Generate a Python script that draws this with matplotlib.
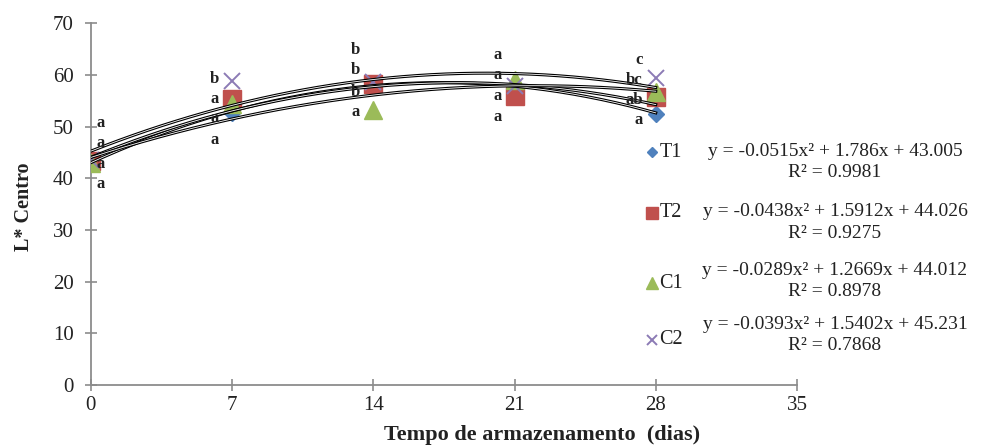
import numpy as np
import matplotlib
matplotlib.use("Agg")
import matplotlib.pyplot as plt

SERIF = ["Liberation Serif", "DejaVu Serif"]
plt.rcParams["font.family"] = SERIF

# ---- data ----
days = [0, 7, 14, 21, 28]
t1 = [43.0, 52.6, 57.8, 57.4, 52.5]
t2 = [43.4, 55.3, 58.3, 55.9, 55.8]
c1 = [42.9, 54.3, 53.2, 59.0, 56.6]
c2 = [43.6, 58.8, 58.6, 57.8, 59.3]
series = ["T1", "T2", "C1", "C2"]
coefs = {"T1": [-0.0515, 1.786, 43.005], "T2": [-0.0438, 1.5912, 44.026],
         "C1": [-0.0289, 1.2669, 44.012], "C2": [-0.0393, 1.5402, 45.231]}
r2 = {"T1": "0.9981", "T2": "0.9275", "C1": "0.8978", "C2": "0.7868"}
eq_txt = {"T1": "y = -0.0515x² + 1.786x + 43.005", "T2": "y = -0.0438x² + 1.5912x + 44.026",
          "C1": "y = -0.0289x² + 1.2669x + 44.012", "C2": "y = -0.0393x² + 1.5402x + 45.231"}
# significance letters per day, top to bottom, with their heights
letters = {0: [("a", 50.7), ("a", 46.8), ("a", 42.7), ("a", 38.8)],
           7: [("b", 59.2), ("a", 55.3), ("a", 51.6), ("a", 47.4)],
           14: [("b", 64.8), ("b", 60.9), ("b", 56.7), ("a", 52.9)],
           21: [("a", 63.8), ("a", 60.0), ("a", 55.9), ("a", 51.9)],
           28: [("c", 62.9), ("bc", 59.0), ("ab", 55.1), ("a", 51.3)]}

# ---- style ----
STY = {"T1": dict(marker="D", color="#4F81BD", ms=8),
       "T2": dict(marker="s", color="#C0504D", ms=12.5),
       "C1": dict(marker="^", color="#9BBB59", ms=13),
       "C2": dict(marker="x", color="#8C7BB5", ms=12, mew=1.4)}
SPINE = "#8c8c8c"
INK = "#222222"

fig = plt.figure(figsize=(9.87, 4.45), dpi=100)
ax = fig.add_axes([0.092, 0.135, 0.7155, 0.813])

vals = {"T1": t1, "T2": t2, "C1": c1, "C2": c2}
for s in series:
    ax.plot(days, vals[s], ls="none", zorder=3, **STY[s])

xx = np.linspace(0, 28, 200)
for s in series:
    yy = np.polyval(coefs[s], xx)
    ax.plot(xx, yy, color="black", lw=2.2, zorder=4)
    ax.plot(xx, yy, color="white", lw=0.6, zorder=4)

for d, items in letters.items():
    for txt, y in items:
        if d == 0:
            ax.text(d + 0.3, y, txt, ha="left", va="center", fontsize=12,
                    weight="bold", color=INK, zorder=5)
        else:
            ax.text(d - 0.65, y, txt, ha="right", va="center", fontsize=12,
                    weight="bold", color=INK, zorder=5)

ax.set_xlim(0, 35)
ax.set_ylim(0, 70)
ax.set_xticks(range(0, 36, 7))
ax.set_yticks(range(0, 71, 10))
for sp in ("top", "right"):
    ax.spines[sp].set_visible(False)
for sp in ("left", "bottom"):
    ax.spines[sp].set_color(SPINE)
    ax.spines[sp].set_linewidth(1.3)
ax.tick_params(direction="inout", length=9, width=1.2, color=SPINE,
               labelsize=15, labelcolor=INK)
ax.tick_params(axis="y", pad=8)
fig.text(0.024, 0.535, "L* Centro", rotation=90, fontsize=14.5, weight="bold",
         ha="center", va="center", color=INK)
fig.text(0.549, 0.022, "Tempo de armazenamento  (dias)", fontsize=16, weight="bold",
         ha="center", va="center", color=INK)

# legend-like labels with equations
eq_y = {"T1": (0.660, 0.612), "T2": (0.524, 0.476), "C1": (0.393, 0.346), "C2": (0.270, 0.223)}
lab_y = {"T1": 0.658, "T2": 0.522, "C1": 0.363, "C2": 0.236}
for s in series:
    st = dict(STY[s])
    st["ms"] = st["ms"] * 0.65
    fig.lines.append(plt.Line2D([0.661], [lab_y[s]], transform=fig.transFigure, ls="none", **st))
    fig.text(0.668, lab_y[s], s, fontsize=14.5, va="center", ha="left", color=INK)
    fig.text(0.846, eq_y[s][0], eq_txt[s], fontsize=14, va="center", ha="center", color=INK)
    fig.text(0.846, eq_y[s][1], "R² = " + r2[s], fontsize=14, va="center", ha="center", color=INK)

fig.savefig("out.png", dpi=100, facecolor="white")
